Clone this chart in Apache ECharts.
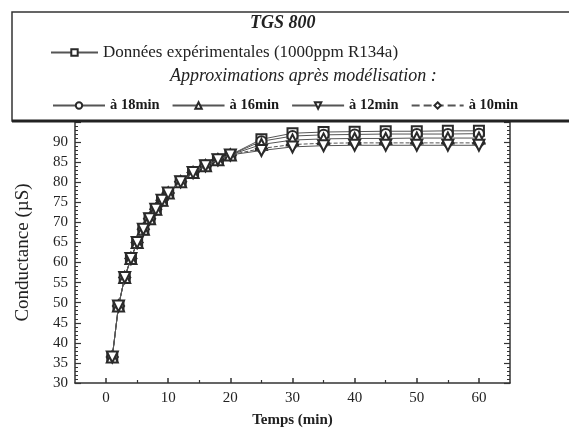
<!DOCTYPE html>
<html>
<head>
<meta charset="utf-8">
<script src="https://cdn.jsdelivr.net/npm/echarts@6/dist/echarts.min.js"></script>
<style>
html,body{margin:0;padding:0;background:#fff;}
#c{width:569px;height:434px;}
</style>
</head>
<body>
<div id="c"></div>
<script>
var timeMin = [1,2,3,4,5,6,7,8,9,10,12,14,16,18,20,25,30,35,40,45,50,55,60];
var commonStart = [36.5,49.2,56.3,61.0,65.0,68.3,70.9,73.3,75.5,77.3,80.1,82.4,84.1,85.6,86.8];
var expTail   = [90.7,92.2,92.5,92.6,92.7,92.7,92.8,92.8];
var m18Tail   = [90.2,91.5,91.8,91.9,92.0,92.0,92.0,92.1];
var m16Tail   = [89.4,90.5,90.8,90.9,90.9,91.0,91.0,91.0];
var m12Tail   = [87.9,88.8,89.1,89.2,89.2,89.2,89.2,89.2];
var m10Tail   = [88.4,89.4,89.7,89.8,89.8,89.8,89.8,89.8];
var xTicksMajor = [0,10,20,30,40,50,60];
var xTicksMinor = [5,15,25,35,45,55];
var names = ['Données expérimentales (1000ppm R134a)','à 18min','à 16min','à 12min','à 10min'];

function build(tail){
  var vals = commonStart.concat(tail);
  return timeMin.map(function(t,i){return [t, vals[i]];});
}
var FONT = 'Liberation Serif';
var chart = echarts.init(document.getElementById('c'), null, {renderer:'canvas'});

function mk(name, tail, symbol, size, dashed, z){
  return {
    name: name, type: 'line', data: build(tail),
    symbol: symbol, symbolSize: size,
    lineStyle: {color:'#555', width:1, type: dashed ? 'dashed' : 'solid'},
    itemStyle: {color:'#fff', borderColor:'#2a2a2a', borderWidth:2},
    emphasis: {disabled:true}, animation:false, z:z
  };
}

var option = {
  animation: false,
  grid: {left:75, right:59, top:122, bottom:51},
  xAxis: [{
    type:'value', min:-5, max:65, interval:5,
    axisLine:{show:true, onZero:false, lineStyle:{color:'#333', width:1.5}},
    axisTick:{show:true, inside:true, length:5, customValues: xTicksMajor, lineStyle:{color:'#333', width:1.5}},
    axisLabel:{customValues: xTicksMajor, fontFamily:FONT, fontSize:15, color:'#222', margin:8},
    splitLine:{show:false},
    name:'Temps (min)', nameLocation:'middle', nameGap:30,
    nameTextStyle:{fontFamily:FONT, fontSize:15, fontWeight:'bold', color:'#222'}
  },{
    type:'value', min:-5, max:65, interval:5, position:'bottom',
    axisLine:{show:false, onZero:false},
    axisTick:{show:true, inside:true, length:3, customValues: xTicksMinor, lineStyle:{color:'#333', width:1.2}},
    axisLabel:{show:false}, splitLine:{show:false}
  }],
  yAxis: [{
    type:'value', min:30, max:95, interval:5,
    axisLine:{show:true, onZero:false, lineStyle:{color:'#333', width:1.5}},
    axisTick:{show:true, inside:true, length:6, lineStyle:{color:'#333', width:1.2}},
    minorTick:{show:true, splitNumber:5, length:3, lineStyle:{color:'#333', width:1}},
    axisLabel:{fontFamily:FONT, fontSize:15, color:'#222', margin:7,
      formatter:function(v){return v>=95?'':String(v);}},
    splitLine:{show:false},
    name:'Conductance (µS)', nameLocation:'middle', nameGap:42,
    nameTextStyle:{fontFamily:FONT, fontSize:19, color:'#222'}
  },{
    type:'value', min:30, max:95, interval:5, position:'right',
    axisLine:{show:true, onZero:false, lineStyle:{color:'#333', width:1.5}},
    axisTick:{show:true, inside:true, length:6, lineStyle:{color:'#333', width:1.2}},
    minorTick:{show:true, splitNumber:5, length:3, lineStyle:{color:'#333', width:1}},
    axisLabel:{show:false}, splitLine:{show:false}
  }],
  legend: [{
    data:[names[0]], left:45, top:39, orient:'horizontal',
    itemWidth:47, itemHeight:8, itemGap:10,
    textStyle:{fontFamily:FONT, fontSize:17, color:'#222'},
    z:20, selectedMode:false
  },{
    data:[names[1],names[2],names[3],names[4]], left:47, top:93, orient:'horizontal',
    itemWidth:52, itemHeight:8, itemGap:12,
    textStyle:{fontFamily:FONT, fontSize:14.5, fontWeight:'bold', color:'#1a1a1a'},
    z:20, selectedMode:false
  }],
  graphic: [
    {type:'rect', z:10, shape:{x:12, y:12, width:620, height:109},
      style:{fill:'#fff', stroke:'#333', lineWidth:1.5}},
    {type:'line', z:11, shape:{x1:12, y1:121, x2:569, y2:121},
      style:{stroke:'#222', lineWidth:3}},
    {type:'text', z:12, left:250, top:14,
      style:{text:'TGS 800', font:'italic bold 18px "Liberation Serif"', fill:'#222'}},
    {type:'text', z:12, left:170, top:67,
      style:{text:'Approximations après modélisation :', font:'italic 18px "Liberation Serif"', fill:'#222'}}
  ],
  series: [
    mk(names[4], m10Tail, 'diamond', 11, true, 2),
    mk(names[0], expTail, 'rect', 10, false, 3),
    mk(names[1], m18Tail, 'circle', 10, false, 4),
    mk(names[2], m16Tail, 'triangle', 11, false, 5),
    mk(names[3], m12Tail, 'path://M0,0 L10,0 L5,9 Z', 11, false, 6)
  ]
};
chart.setOption(option);
</script>
</body>
</html>
